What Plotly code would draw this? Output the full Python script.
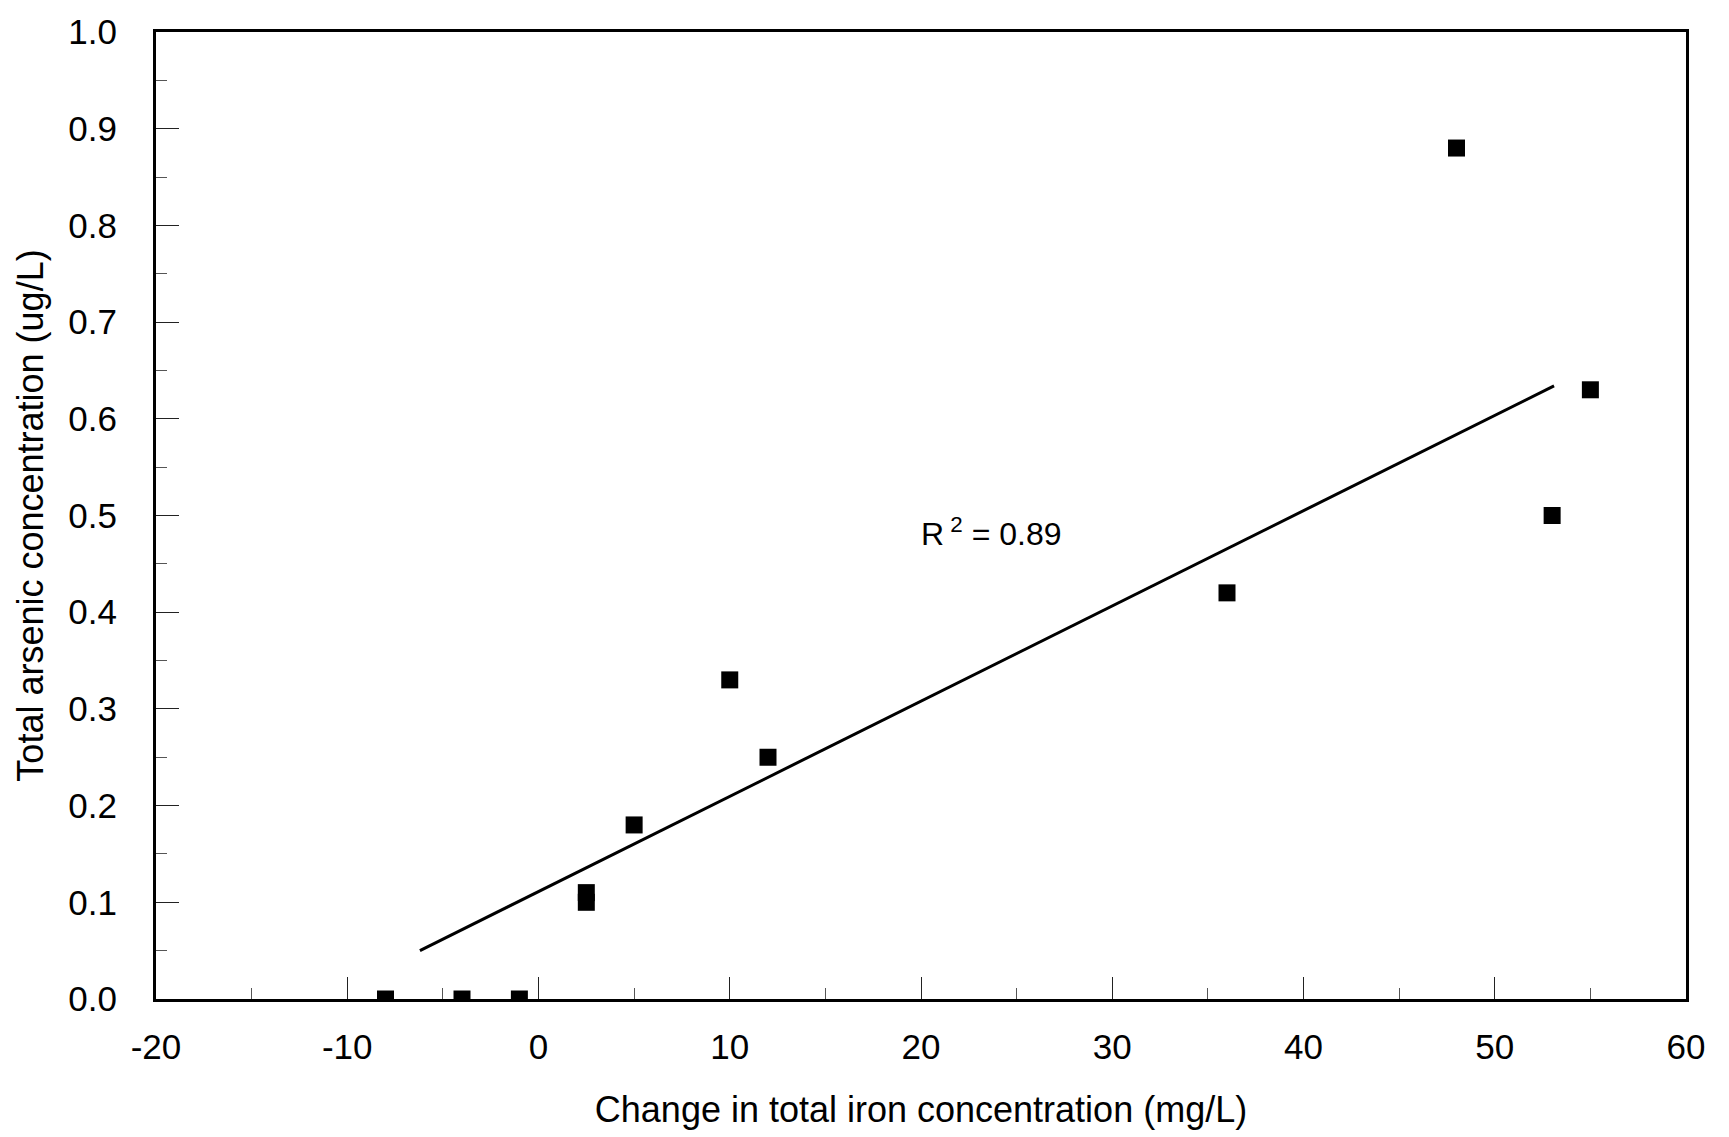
import plotly.graph_objects as go

# Data
iron_change = [-8, -4, -1, 2.5, 2.5, 5, 10, 12, 36, 48, 53, 55]
arsenic_total = [0.0, 0.0, 0.0, 0.10, 0.11, 0.18, 0.33, 0.25, 0.42, 0.88, 0.50, 0.63]

trend_x = [-6.2, 53.1]
trend_y = [0.05, 0.634]

x_tickvals = [-20, -10, 0, 10, 20, 30, 40, 50, 60]
x_ticktext = ["-20", "-10", "0", "10", "20", "30", "40", "50", "60"]

r2_label = "R<sup> 2</sup> = 0.89"
r2_pos = (23.7, 0.483)

x_title = "Change in total iron concentration (mg/L)"
y_title = "Total arsenic concentration (ug/L)"

FONT = "Liberation Sans, Arial, sans-serif"

fig = go.Figure()
fig.add_trace(go.Scatter(
    x=trend_x, y=trend_y, mode="lines",
    line=dict(color="black", width=3), showlegend=False, hoverinfo="skip"))
fig.add_trace(go.Scatter(
    x=iron_change, y=arsenic_total, mode="markers",
    marker=dict(symbol="square", size=17, color="black"),
    showlegend=False, cliponaxis=True))

fig.add_annotation(x=r2_pos[0], y=r2_pos[1], text=r2_label, showarrow=False,
                   xanchor="center", yanchor="middle",
                   font=dict(family=FONT, size=32, color="black"))

axis_common = dict(
    showgrid=False, zeroline=False, showline=True, linecolor="black", linewidth=3,
    mirror=True, ticks="inside", tickcolor="#222", tickwidth=1.3,
    tickfont=dict(family=FONT, size=35, color="black"),
    title_font=dict(family=FONT, size=36, color="black"),
)

fig.update_xaxes(range=[-20, 60], tickvals=x_tickvals, ticktext=x_ticktext, ticklen=22,
                 minor=dict(ticks="inside", dtick=5, ticklen=11, tickcolor="#555", tickwidth=1),
                 ticklabelstandoff=15,
                 title_text=x_title, title_standoff=32, **axis_common)
fig.update_yaxes(range=[0, 1.0], dtick=0.1, tick0=0, ticklen=23, tickformat=".1f",
                 minor=dict(ticks="inside", dtick=0.05, ticklen=11, tickcolor="#555", tickwidth=1),
                 ticklabelstandoff=29,
                 title_text=y_title, title_standoff=14, **axis_common)

fig.update_layout(
    width=1729, height=1137,
    margin=dict(l=156, r=43, t=29, b=138),
    plot_bgcolor="white", paper_bgcolor="white",
    font=dict(family=FONT, color="black"),
)

fig.write_html("out.html")
